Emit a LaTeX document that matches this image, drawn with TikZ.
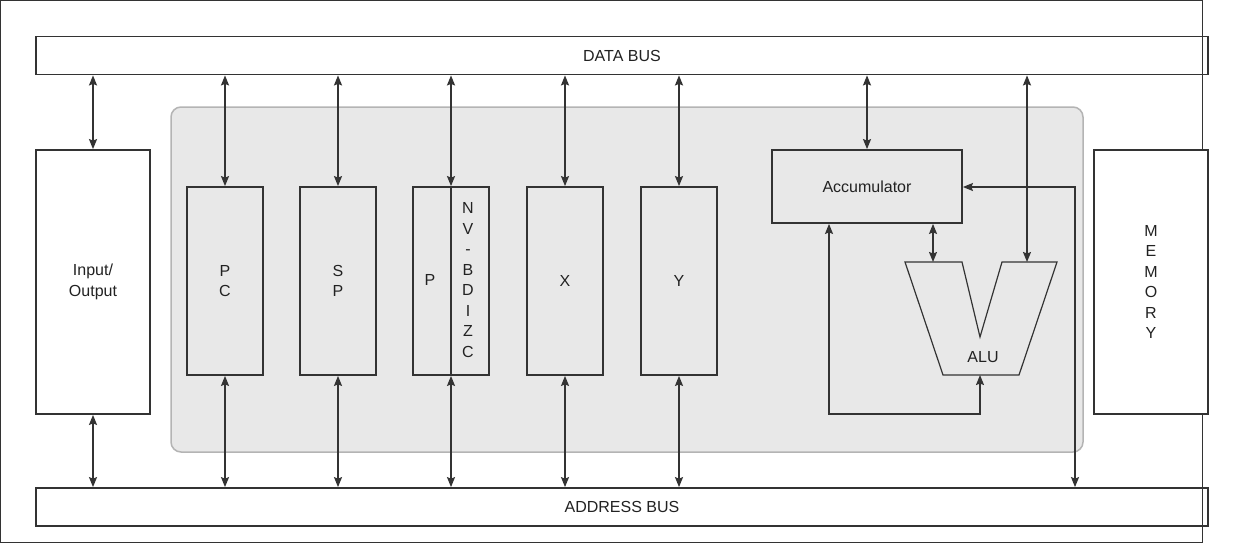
\documentclass[tikz,border=0pt]{standalone}
\usepackage{fontspec}
\setmainfont{Liberation Sans}
\usetikzlibrary{arrows.meta}
\definecolor{linec}{HTML}{333333}
\definecolor{greyfill}{HTML}{E8E8E8}
\definecolor{greyline}{HTML}{B4B4B4}
\definecolor{textc}{HTML}{222222}
\begin{document}
\begin{tikzpicture}[x=1pt,y=-1pt,
  box/.style={draw=linec,line width=1.8pt,text=textc,align=center,inner sep=0pt,
    font=\fontsize{16}{20.5}\selectfont},
  reg/.style={box,minimum width=76pt,minimum height=188pt},
  bus/.style={box,minimum width=1172pt,minimum height=38pt},
  biarrow/.style={draw=linec,line width=1.5pt,
    {Stealth[length=10pt,width=8pt,inset=1.5pt]}-{Stealth[length=10pt,width=8pt,inset=1.5pt]}},
  lbl/.style={text=textc,align=center,inner sep=0pt,font=\fontsize{16}{20.5}\selectfont}]
\useasboundingbox (0,0) rectangle (1236,555);
\fill[white] (0,0) rectangle (1236,555);
% outer frame
\draw[linec,line width=1pt] (0.5,0.5) rectangle (1202,542);
% grey CPU region
\draw[fill=greyfill,draw=greyline,line width=1.5pt,rounded corners=10pt] (171,107) rectangle (1083,452);
% buses
\node[bus] (databus) at (622,55.5) {DATA BUS};
\node[bus] (addrbus) at (622,507) {ADDRESS BUS};
% side boxes
\node[box,fill=white,minimum width=114pt,minimum height=264pt] (io) at (93,282) {Input/\\Output};
\node[box,fill=white,minimum width=114pt,minimum height=264pt] (mem) at (1151,282) {M\\E\\M\\O\\R\\Y};
% registers
\node[reg] (PC) at (225,281) {P\\C};
\node[reg] (SP) at (338,281) {S\\P};
\node[reg] (P) at (451,281) {};
\node[lbl] (Pl) at (430,280) {P};
\node[lbl] (flags) at (468,280) {N\\V\\-\\B\\D\\I\\Z\\C};
\draw[linec,line width=1.5pt] (P.north) -- (P.south);
\node[reg] (X) at (565,281) {X};
\node[reg] (Y) at (679,281) {Y};
% accumulator
\node[box,minimum width=190pt,minimum height=73pt] (acc) at (867,186.5) {Accumulator};
% ALU
\coordinate (aluinA) at (933,262);
\coordinate (aluinB) at (1027,262);
\coordinate (aluout) at (980,375);
\draw[linec,line width=1.2pt,line join=miter] (905,262) -- (962,262) -- (980,337) -- (1002,262)
  -- (1057,262) -- (1019,375) -- (943,375) -- cycle;
\node[lbl] (alu) at (983,357) {ALU};
% bus connections
\foreach \r in {PC,SP,P,X,Y}{
  \draw[biarrow] (\r.north |- databus.south) -- (\r.north);
  \draw[biarrow] (\r.south) -- (\r.south |- addrbus.north);
}
\draw[biarrow] (io.north |- databus.south) -- (io.north);
\draw[biarrow] (io.south) -- (io.south |- addrbus.north);
\draw[biarrow] (acc.north |- databus.south) -- (acc.north);
\draw[biarrow] (aluinB |- databus.south) -- (aluinB);
\draw[biarrow] (aluinA |- acc.south) -- (aluinA);
% loop from ALU output back to accumulator
\coordinate (lp) at (829,414);
\draw[biarrow] (aluout) |- (lp) -- (lp |- acc.south);
% accumulator to address bus
\coordinate (rt) at (1075,187);
\draw[biarrow] (acc.east |- rt) -- (rt) -- (rt |- addrbus.north);
\end{tikzpicture}
\end{document}
